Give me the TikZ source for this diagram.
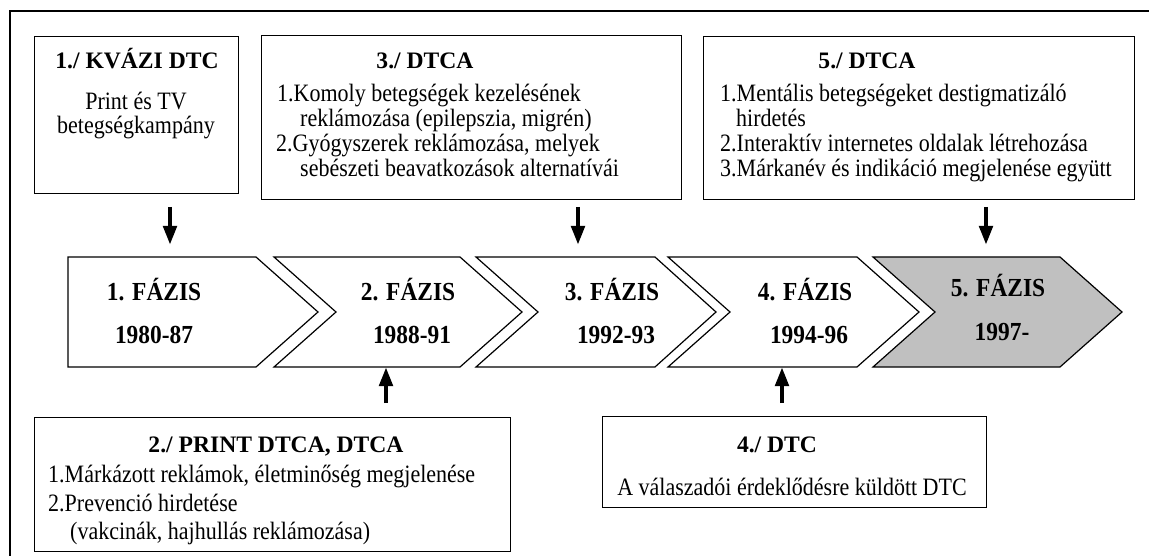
\documentclass[tikz,border=0pt]{standalone}
\usepackage{fontspec}
\setmainfont{Liberation Serif}
\newfontfamily\bodyfont[FakeStretch=0.88]{Liberation Serif}
\newfontfamily\phasefont[FakeStretch=0.9]{Liberation Serif}
\usetikzlibrary{arrows.meta,calc}

\begin{document}
\begin{tikzpicture}[x=1pt,y=-1pt,
  box/.style={draw, line width=1.2pt, anchor=north west, inner sep=0pt},
  chev/.style={draw, line width=1.2pt, line join=miter},
  ttl/.style={anchor=base, inner sep=0pt, font=\fontsize{23.6}{26}\selectfont\bfseries},
  phase/.style={anchor=base, inner sep=0pt, font=\phasefont\fontsize{26}{28}\selectfont\bfseries},
  ctr/.style={anchor=base, inner sep=0pt, font=\bodyfont\fontsize{25}{26}\selectfont},
  lft/.style={anchor=base west, inner sep=0pt, font=\bodyfont\fontsize{25}{26}\selectfont},
  blockarrow/.style={line width=4.5pt, -{Triangle[width=13pt,length=19pt]}}
]
\useasboundingbox (0,0) rectangle (1149,556);

% outer frame (open to the right and bottom)
\draw[line width=1.8pt] (1160,11) -- (10,11) -- (10,570);

% ---- upper boxes ----
\node[box, minimum width=204pt, minimum height=157pt] (b1) at (34,36) {};
\node[ttl] (b1t) at (137,69) {1./ KVÁZI DTC};
\node[ctr] (b1l1) at (136,110) {Print és TV};
\node[ctr] (b1l2) at (136,134) {betegségkampány};

\node[box, minimum width=420pt, minimum height=164pt] (b3) at (261,35) {};
\node[ttl] (b3t) at (425,69) {3./ DTCA};
\node[lft] (b3l1) at (277,102) {1.Komoly betegségek kezelésének};
\node[lft] (b3l2) at (300,127) {reklámozása (epilepszia, migrén)};
\node[lft] (b3l3) at (276,152) {2.Gyógyszerek reklámozása, melyek};
\node[lft] (b3l4) at (300,177) {sebészeti beavatkozások alternatívái};

\node[box, minimum width=431pt, minimum height=163pt] (b5) at (703,36) {};
\node[ttl] (b5t) at (867,69) {5./ DTCA};
\node[lft] (b5l1) at (720,102) {1.Mentális betegségeket destigmatizáló};
\node[lft] (b5l2) at (736,127) {hirdetés};
\node[lft] (b5l3) at (720,152) {2.Interaktív internetes oldalak létrehozása};
\node[lft] (b5l4) at (720,177) {3.Márkanév és indikáció megjelenése együtt};

% ---- phase chevrons ----
\draw[chev] (68,257) -- (256,257) -- (318,312) -- (256,367) -- (68,367) -- cycle;
\draw[chev] (274,257) -- (460,257) -- (522,312) -- (460,367) -- (274,367) -- (336,312) -- cycle;
\draw[chev] (476,257) -- (655,257) -- (716,312) -- (655,367) -- (476,367) -- (538,312) -- cycle;
\draw[chev] (668,257) -- (857,257) -- (919,312) -- (857,367) -- (668,367) -- (730,312) -- cycle;
\draw[chev, fill={rgb,255:red,192;green,192;blue,192}] (873,257) -- (1060,257) -- (1122,312) -- (1060,367) -- (873,367) -- (935,312) -- cycle;

\node[phase] (p1) at (154,301) {1. FÁZIS};
\node[phase] (y1) at (154,343) {1980-87};
\node[phase] (p2) at (408,301) {2. FÁZIS};
\node[phase] (y2) at (412,343) {1988-91};
\node[phase] (p3) at (612,301) {3. FÁZIS};
\node[phase] (y3) at (616,343) {1992-93};
\node[phase] (p4) at (805,301) {4. FÁZIS};
\node[phase] (y4) at (809,343) {1994-96};
\node[phase] (p5) at (998,297) {5. FÁZIS};
\node[phase] (y5) at (1002,340) {1997-};

% ---- lower boxes ----
\node[box, minimum width=476pt, minimum height=134pt] (b2) at (34,417) {};
\node[ttl] (b2t) at (276,452) {2./ PRINT DTCA, DTCA};
\node[lft] (b2l1) at (48,482) {1.Márkázott reklámok, életminőség megjelenése};
\node[lft] (b2l2) at (48,511) {2.Prevenció hirdetése};
\node[lft] (b2l3) at (70,539) {(vakcinák, hajhullás reklámozása)};

\node[box, minimum width=384pt, minimum height=91pt] (b4) at (602,416) {};
\node[ttl] (b4t) at (777,452) {4./ DTC};
\node[ctr] (b4l1) at (792,495) {A válaszadói érdeklődésre küldött DTC};

% ---- arrows ----
\coordinate (a1s) at (170,207); \coordinate (a1e) at (170,245);
\coordinate (a3s) at (578,207); \coordinate (a3e) at (578,245);
\coordinate (a5s) at (986,207); \coordinate (a5e) at (986,245);
\coordinate (a2s) at (386,403); \coordinate (a2e) at (386,367);
\coordinate (a4s) at (782,403); \coordinate (a4e) at (782,367);
\draw[blockarrow] (a1s) -- (a1e);
\draw[blockarrow] (a3s) -- (a3e);
\draw[blockarrow] (a5s) -- (a5e);
\draw[blockarrow] (a2s) -- (a2e);
\draw[blockarrow] (a4s) -- (a4e);
\end{tikzpicture}
\end{document}
